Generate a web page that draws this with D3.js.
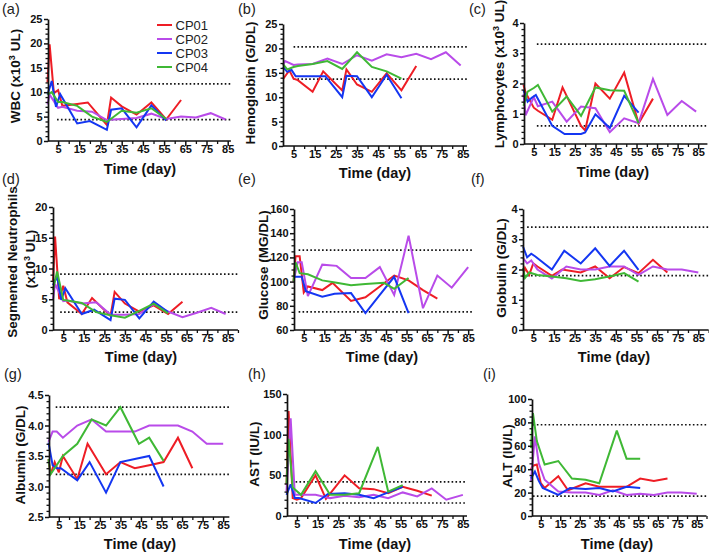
<!DOCTYPE html>
<html><head><meta charset="utf-8">
<script src="https://cdn.jsdelivr.net/npm/d3@7"></script>
<style>
html,body{margin:0;padding:0;background:#fff;}
svg{display:block;font-family:"Liberation Sans",Arial,Helvetica,sans-serif;}
</style></head>
<body><svg id="chart" width="709" height="555"></svg>
<script>
// ---------------- DATA ----------------
const seriesNames = ["CP01", "CP02", "CP03", "CP04"];
const seriesColors = ["#ee1d25", "#b94be9", "#1436f2", "#3fb835"];

// sampling days (CBC panels a-d)
const cbcDaysCP01 = [0, 1, 3, 5, 7, 14, 19, 28, 30, 35, 42, 49, 56, 63];
const cbcDaysCP02 = [0, 1, 5, 7, 14, 21, 28, 35, 42, 49, 56, 63, 70, 77, 84];
const cbcDaysCP03 = [0, 2, 4, 6, 14, 20, 28, 30, 35, 42, 49, 56];
const cbcDaysCP04 = [0, 2, 5, 7, 14, 21, 28, 35, 42, 49, 56];
// sampling days (chemistry panels e-i)
const chemDaysCP01 = [0, 1, 3, 5, 7, 14, 19, 28, 35, 42, 49, 56, 63, 70];
const chemDaysCP02 = [0, 2, 4, 7, 14, 21, 28, 35, 42, 49, 56, 63, 70, 77, 85];
const chemDaysCP03 = [0, 2, 4, 6, 14, 20, 28, 35, 42, 49, 56];
const chemDaysCP04 = [0, 1, 3, 7, 14, 21, 28, 35, 44, 49, 56];

// (a) WBC
const wbcCP01 = [12, 19.8, 9.8, 10.4, 7.2, 7.6, 7.9, 3.3, 8.9, 7.1, 5.4, 7.9, 4.4, 8.4];
const wbcCP02 = [7.5, 9.5, 6.8, 7.0, 6.2, 6.0, 4.3, 4.5, 4.7, 5.6, 4.5, 5.0, 4.8, 5.7, 4.4];
const wbcCP03 = [9.5, 12.3, 7.0, 9.6, 3.6, 4.1, 2.3, 6.4, 6.7, 2.8, 7.3, 4.2];
const wbcCP04 = [9.5, 10.0, 8.0, 8.0, 7.2, 5.0, 3.9, 6.2, 5.8, 6.7, 4.5];
// (b) Hemoglobin
const hgbCP01 = [13.7, 14.3, 15.5, 13.8, 13.5, 11.1, 15.3, 11.4, 15.7, 12.6, 11.1, 14.9, 11.4, 16.4];
const hgbCP02 = [16.6, 17.4, 16.6, 16.7, 16.8, 17.9, 16.8, 18.6, 17.5, 18.8, 18.2, 18.9, 17.8, 19.2, 16.5];
const hgbCP03 = [16.2, 15.2, 15.6, 14.3, 14.3, 14.3, 10.0, 14.4, 14.3, 10.0, 14.6, 9.8];
const hgbCP04 = [16.8, 15.7, 16.2, 16.4, 16.8, 17.4, 15.8, 19.2, 16.2, 15.3, 13.8];
// (c) Lymphocytes
const lymCP01 = [1.95, 1.7, 1.45, 1.2, 1.1, 0.8, 1.87, 0.6, 0.45, 2.0, 1.5, 2.36, 0.68, 1.5];
const lymCP02 = [1.65, 0.95, 1.55, 1.25, 1.4, 0.74, 1.24, 1.18, 0.39, 0.85, 0.69, 2.15, 0.96, 1.42, 1.07];
const lymCP03 = [1.78, 1.4, 1.53, 1.62, 0.6, 0.33, 0.33, 0.38, 0.98, 0.53, 1.59, 1.04];
const lymCP04 = [1.26, 1.73, 1.85, 1.95, 1.07, 1.57, 0.93, 1.87, 1.78, 1.76, 0.69];
// (d) Segmented neutrophils
const segCP01 = [8, 15.2, 5.0, 7.2, 4.5, 2.6, 5.2, 2.3, 6.2, 4.3, 3.0, 4.0, 2.6, 4.6];
const segCP02 = [5.0, 7.5, 4.7, 4.8, 4.3, 4.5, 2.5, 2.5, 2.6, 4.2, 3.0, 2.1, 2.8, 3.6, 2.6];
const segCP03 = [7.3, 8.7, 4.9, 6.8, 2.6, 3.3, 1.6, 5.1, 4.9, 1.9, 4.6, 2.9];
const segCP04 = [6.5, 9.5, 4.9, 4.8, 4.4, 2.9, 2.4, 2.0, 3.1, 4.3, 2.7];
// (e) Glucose
const gluCP01 = [100, 121, 121, 91, 96, 93, 99, 84, 87, 96, 105, 101, 93, 86];
const gluCP02 = [100, 116, 116, 88, 114, 113, 103, 103, 112, 89, 138, 78, 105, 95, 112];
const gluCP03 = [104, 104, 104, 92, 87.5, 90, 90.5, 74, 89, 104, 74];
const gluCP04 = [100, 116, 107, 106, 101, 99, 97, 98, 99, 94, 103];
// (f) Globulin
const globCP01 = [1.75, 2.05, 1.82, 2.2, 2.1, 1.79, 2.0, 1.9, 2.1, 1.71, 2.08, 1.88, 2.32, 1.9];
const globCP02 = [2.38, 2.2, 2.3, 2.0, 1.7, 2.1, 2.0, 2.0, 2.1, 2.1, 1.82, 2.1, 2.0, 2.0, 1.9];
const globCP03 = [2.76, 2.4, 2.52, 2.43, 2.0, 2.62, 2.2, 2.7, 2.12, 2.62, 1.99];
const globCP04 = [2.05, 1.72, 1.9, 1.82, 1.77, 1.71, 1.62, 1.68, 1.8, 1.88, 1.6];
// (g) Albumin
const albCP01 = [3.45, 3.2, 3.4, 3.23, 3.5, 3.12, 3.7, 3.2, 3.4, 3.3, 3.35, 3.4, 3.8, 3.3];
const albCP02 = [3.73, 3.9, 3.9, 3.8, 4.0, 4.1, 3.9, 3.9, 3.9, 4.0, 4.0, 4.0, 3.9, 3.7, 3.7];
const albCP03 = [3.72, 3.35, 3.3, 3.3, 3.1, 3.4, 2.9, 3.4, 3.45, 3.5, 3.0];
const albCP04 = [3.45, 3.2, 3.3, 3.5, 3.7, 4.1, 4.0, 4.3, 3.7, 3.8, 3.42];
// (h) AST
const astCP01 = [38, 129, 22, 20, 22, 50, 21, 50, 34, 33, 28, 36, 31, 25];
const astCP02 = [30, 120, 26, 26, 26, 22, 25, 23, 26, 22, 29, 24, 34, 20, 26];
const astCP03 = [26, 39, 22, 22, 16, 27, 28, 26, 22, 29, 36];
const astCP04 = [40, 95, 35, 26, 55, 26, 26, 28, 85, 30, 38];
// (i) ALT
const altCP01 = [40, 43, 44, 28, 24, 34, 22, 28, 25, 25, 25, 32, 30, 32];
const altCP02 = [30, 68, 45, 31, 21, 20, 20, 18, 22, 18, 19, 18, 20, 20, 19];
const altCP03 = [32, 38, 30, 24, 18, 24, 23, 24, 21, 25, 24];
const altCP04 = [58, 88, 64, 44, 47, 32, 31, 28, 73, 49, 49];

// reference ranges (dotted lines)
const refWBC = [4.4, 11.7];
const refHGB = [13.7, 20.3];
const refLYM = [0.6, 3.3];
const refSEG = [2.9, 9.1];
const refGLU = [75, 126];
const refGLOB = [1.8, 3.4];
const refALB = [3.2, 4.3];
const refAST = [16, 42];
const refALT = [17, 78];

// axis ticks
const xTickLabels = [5, 15, 25, 35, 45, 55, 65, 75, 85];
const xMinorTicks = [10, 20, 30, 40, 50, 60, 70, 80, 90];

const cbcDays = [cbcDaysCP01, cbcDaysCP02, cbcDaysCP03, cbcDaysCP04];
const chemDays = [chemDaysCP01, chemDaysCP02, chemDaysCP03, chemDaysCP04];

const panels = [
  {key:"a", tag:"(a)", ylab:[["WBC (x10"],["3",1],[" UL)"]], dom:[0,25], ticks:[0,5,10,15,20,25], minor:1, fmt:"d", ref:refWBC, days:cbcDays, vals:[wbcCP01,wbcCP02,wbcCP03,wbcCP04]},
  {key:"b", tag:"(b)", ylab:[["Hemoglobin (G/DL)"]], dom:[0,25], ticks:[0,5,10,15,20,25], minor:1, fmt:"d", ref:refHGB, days:cbcDays, vals:[hgbCP01,hgbCP02,hgbCP03,hgbCP04]},
  {key:"c", tag:"(c)", ylab:[["Lymphocytes (x10"],["3",1],[" UL)"]], dom:[0,4], ticks:[0,1,2,3,4], minor:0.2, fmt:"d", ref:refLYM, days:cbcDays, vals:[lymCP01,lymCP02,lymCP03,lymCP04]},
  {key:"d", tag:"(d)", ylab:[["Segmented Neutrophils"]], ylab2:[["(x10"],["3",1],[" UL)"]], dom:[0,20], ticks:[0,5,10,15,20], minor:1, fmt:"d", ref:refSEG, days:cbcDays, vals:[segCP01,segCP02,segCP03,segCP04]},
  {key:"e", tag:"(e)", ylab:[["Glucose (MG/DL)"]], dom:[60,160], ticks:[60,80,100,120,140,160], minor:5, fmt:"d", ref:refGLU, days:chemDays, vals:[gluCP01,gluCP02,gluCP03,gluCP04]},
  {key:"f", tag:"(f)", ylab:[["Globulin (G/DL)"]], dom:[0,4], ticks:[0,1,2,3,4], minor:0.2, fmt:"d", ref:refGLOB, days:chemDays, vals:[globCP01,globCP02,globCP03,globCP04]},
  {key:"g", tag:"(g)", ylab:[["Albumin (G/DL)"]], dom:[2.5,4.5], ticks:[2.5,3.0,3.5,4.0,4.5], minor:0.1, fmt:".1f", ref:refALB, days:chemDays, vals:[albCP01,albCP02,albCP03,albCP04]},
  {key:"h", tag:"(h)", ylab:[["AST (IU/L)"]], dom:[0,150], ticks:[0,50,100,150], minor:10, fmt:"d", ref:refAST, days:chemDays, vals:[astCP01,astCP02,astCP03,astCP04]},
  {key:"i", tag:"(i)", ylab:[["ALT (IU/L)"]], dom:[0,100], ticks:[0,20,40,60,80,100], minor:5, fmt:"d", ref:refALT, days:chemDays, vals:[altCP01,altCP02,altCP03,altCP04]}
];

// ---------------- LAYOUT ----------------
const layout = {
  a:{ax:48,  x0:47.5,  k:2.12,   xmax:86.5, top:19,  bot:141, tag:[2,14],    yl:[20,76],   xl:[140,174], refFrom:4.5},
  b:{ax:283, x0:283,   k:2.115,  xmax:87,   top:24,  bot:146, tag:[238,14],  yl:[255,83],  xl:[375,178], refFrom:5},
  c:{ax:524, x0:523.5, k:2.055,  xmax:89.5, top:23,  bot:144, tag:[469,14],  yl:[504,74],  xl:[613,177], refFrom:6.5},
  d:{ax:53,  x0:53,    k:2.055,  xmax:90,   top:207, bot:330, tag:[2,184],   yl:[17,262], yl2:[35,259], xl:[141,362], refFrom:3.5},
  e:{ax:294, x0:293.5, k:2.055,  xmax:87.5, top:209, bot:330, tag:[238,184], yl:[268,265], xl:[382,362], refFrom:2.5},
  f:{ax:523, x0:523,   k:2.0625, xmax:90,   top:209, bot:330, tag:[471,184], yl:[506,268], xl:[614,362], refFrom:2},
  g:{ax:49,  x0:48.5,  k:2.055,  xmax:88,   top:395, bot:517, tag:[4,379],   yl:[25,455],  xl:[140,549], refFrom:3.5},
  h:{ax:287, x0:286.5, k:2.075,  xmax:87,   top:394, bot:516, tag:[248,379], yl:[259,454], xl:[375,549], refFrom:2.5},
  i:{ax:532, x0:531,   k:1.95,   xmax:90,   top:399, bot:516, tag:[483,379], yl:[512,456], xl:[617,549], refFrom:1}
};

const svg = d3.select("#chart");

function addRotLabel(g, parts, x, y) {
  const t = g.append("text")
    .attr("transform", `translate(${x},${y}) rotate(-90)`)
    .attr("text-anchor", "middle")
    .attr("font-size", 13.5).attr("font-weight", "bold").attr("fill", "#111");
  parts.forEach(p => {
    const ts = t.append("tspan").text(p[0]);
    if (p[1]) ts.attr("font-size", 9).attr("dy", -5);
    else if (t.selectAll("tspan").size() > 1) ts.attr("dy", 5);
  });
}

panels.forEach(p => {
  const L = layout[p.key];
  const g = svg.append("g");
  const x = d3.scaleLinear().domain([0, L.xmax]).range([L.x0, L.x0 + L.xmax * L.k]);
  const y = d3.scaleLinear().domain(p.dom).range([L.bot, L.top]);
  const fmt = d3.format(p.fmt);

  // reference lines
  p.ref.forEach(v => {
    g.append("line")
      .attr("x1", x(L.refFrom)).attr("x2", x(L.xmax))
      .attr("y1", y(v)).attr("y2", y(v))
      .attr("stroke", "#111").attr("stroke-width", 1.7)
      .attr("stroke-dasharray", "1.6,2.3");
  });

  // series lines
  const line = d3.line().x(d => x(d[0])).y(d => y(d[1]));
  p.vals.forEach((vals, i) => {
    const pts = vals.map((v, j) => [p.days[i][j], v]);
    g.append("path").datum(pts)
      .attr("d", line)
      .attr("fill", "none")
      .attr("stroke", seriesColors[i])
      .attr("stroke-width", 2)
      .attr("stroke-linejoin", "miter")
      .attr("stroke-miterlimit", 3);
  });

  // minor y ticks
  const minorVals = d3.range(p.dom[0], p.dom[1] + p.minor / 2, p.minor)
    .filter(v => !p.ticks.some(t => Math.abs(t - v) < 1e-6));
  const yMinor = g.append("g").attr("transform", `translate(${L.ax},0)`)
    .call(d3.axisLeft(y).tickValues(minorVals).tickSize(2.5).tickFormat(""));
  yMinor.select(".domain").remove();
  yMinor.selectAll("line").attr("stroke", "#111").attr("stroke-width", 1.3);

  // y axis
  const yAx = g.append("g").attr("transform", `translate(${L.ax},0)`)
    .call(d3.axisLeft(y).tickValues(p.ticks).tickSize(4).tickSizeOuter(0).tickPadding(1.5).tickFormat(fmt));
  yAx.select(".domain").attr("stroke", "#111").attr("stroke-width", 1.7);
  yAx.selectAll("line").attr("stroke", "#111").attr("stroke-width", 1.5);
  yAx.selectAll("text").attr("font-size", 11).attr("font-weight", "bold")
    .attr("fill", "#111").attr("font-family", "Liberation Sans, Arial, sans-serif");

  // x axis minor ticks
  const xMinor = g.append("g").attr("transform", `translate(0,${L.bot})`)
    .call(d3.axisBottom(x).tickValues(xMinorTicks.filter(v => v <= L.xmax)).tickSize(3).tickFormat(""));
  xMinor.select(".domain").remove();
  xMinor.selectAll("line").attr("stroke", "#111").attr("stroke-width", 1.3);

  // x axis
  const xAx = g.append("g").attr("transform", `translate(0,${L.bot})`)
    .call(d3.axisBottom(x).tickValues(xTickLabels).tickSize(5).tickSizeOuter(0).tickFormat(d3.format("d")));
  xAx.select(".domain").attr("stroke", "#111").attr("stroke-width", 1.7)
    .attr("d", `M${L.ax},0H${x(L.xmax)}`);
  xAx.selectAll("line").attr("stroke", "#111").attr("stroke-width", 1.5);
  xAx.selectAll("text").attr("font-size", 11).attr("font-weight", "bold")
    .attr("fill", "#111").attr("y", 4.5).attr("dy", "0.71em")
    .attr("font-family", "Liberation Sans, Arial, sans-serif");

  // axis titles
  addRotLabel(g, p.ylab, L.yl[0], L.yl[1]);
  if (p.ylab2) addRotLabel(g, p.ylab2, L.yl2[0], L.yl2[1]);
  g.append("text").attr("x", L.xl[0]).attr("y", L.xl[1])
    .attr("text-anchor", "middle").attr("font-size", 14.5).attr("font-weight", "bold")
    .attr("fill", "#111").text("Time (day)");

  // panel tag
  g.append("text").attr("x", L.tag[0]).attr("y", L.tag[1])
    .attr("font-size", 14.5).attr("fill", "#222").text(p.tag);
});

// legend in panel (a)
const leg = svg.append("g");
seriesNames.forEach((n, i) => {
  const yy = 25 + i * 14;
  leg.append("line").attr("x1", 157).attr("x2", 172).attr("y1", yy).attr("y2", yy)
    .attr("stroke", seriesColors[i]).attr("stroke-width", 2);
  leg.append("text").attr("x", 175.5).attr("y", yy + 4.5)
    .attr("font-size", 13).attr("fill", "#222").text(n);
});
</script>
</body></html>
